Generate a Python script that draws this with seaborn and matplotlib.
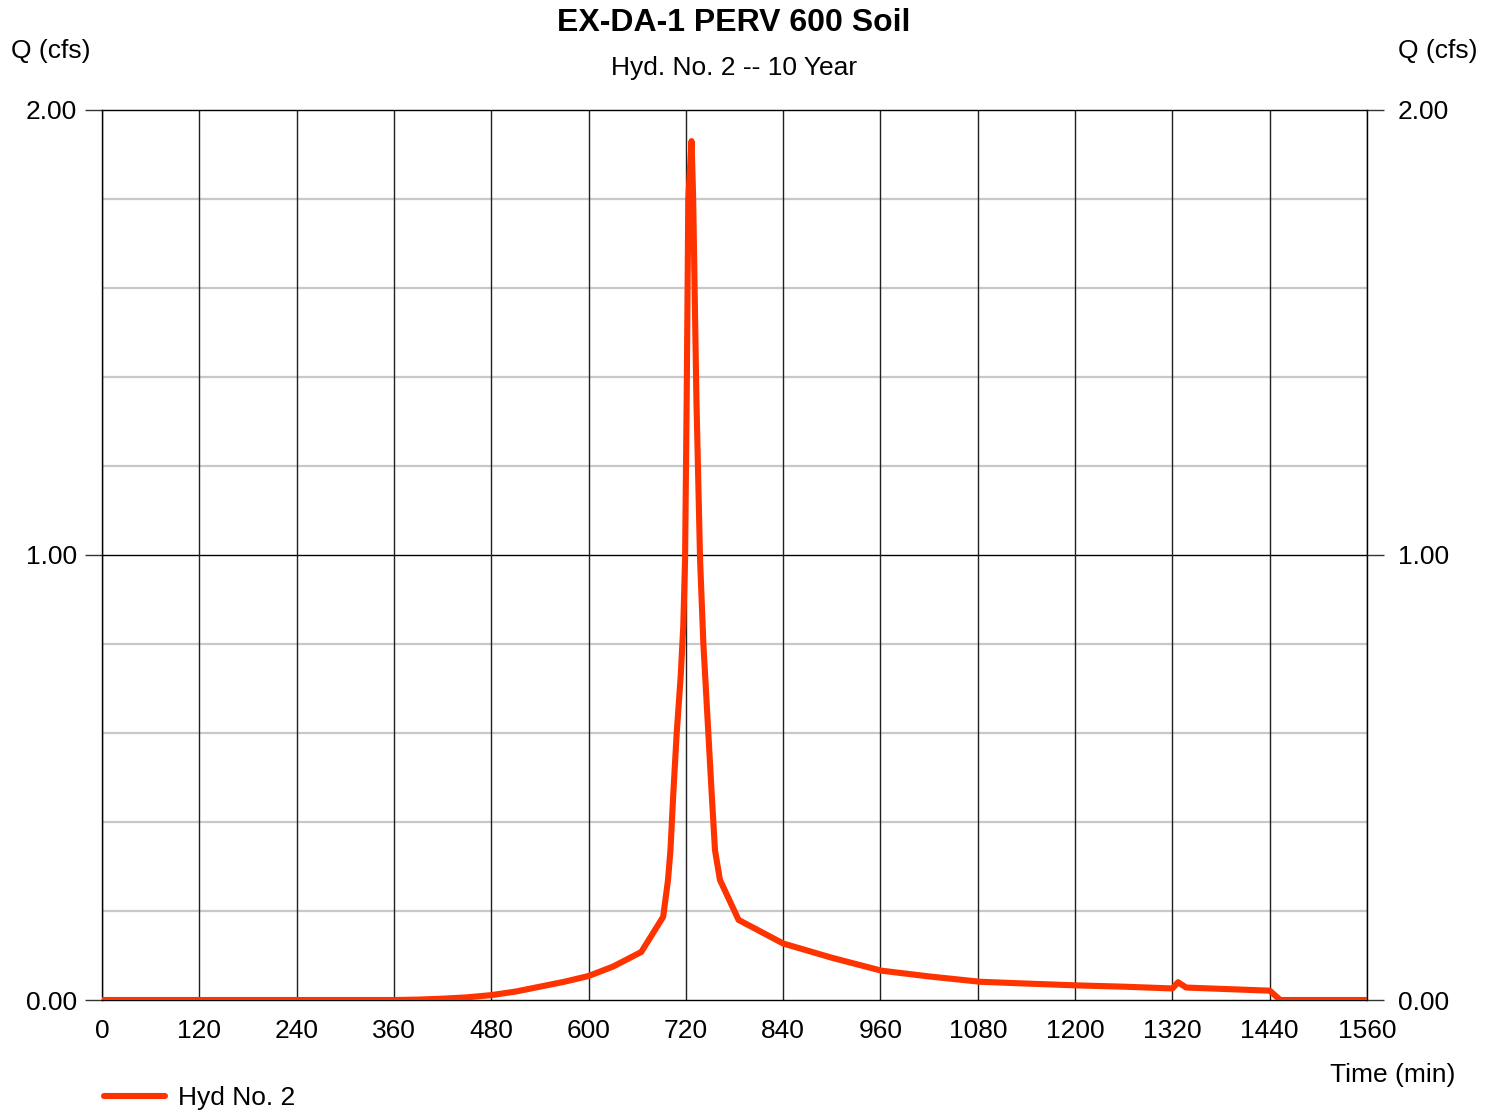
import matplotlib
matplotlib.use("Agg")
import matplotlib.pyplot as plt
import seaborn as sns
import pandas as pd

sns.set_style("white")
plt.rcParams["font.family"] = ["Liberation Sans", "DejaVu Sans"]
plt.rcParams["text.color"] = "black"
plt.rcParams["xtick.color"] = "black"
plt.rcParams["ytick.color"] = "black"

# Hydrograph ordinates: time (min) and discharge (cfs)
time_min = [0, 360, 390, 420, 450, 480, 510, 540, 570, 600, 630, 665, 692,
            698, 701, 704.5, 708.7, 713.6, 716.8, 719, 721, 723, 727, 729, 733,
            737.5, 741.6, 747.7, 751.8, 755.9, 762, 785, 840, 900, 961, 1020,
            1083, 1140, 1200, 1260, 1320, 1327, 1337, 1440, 1453, 1560]
flow_cfs = [0.0, 0.0, 0.001, 0.003, 0.006, 0.011, 0.019, 0.030, 0.041, 0.054,
            0.075, 0.108, 0.187, 0.27, 0.337, 0.464, 0.60, 0.727, 0.84, 0.99,
            1.35, 1.80, 1.93, 1.80, 1.35, 0.99, 0.80, 0.60, 0.465, 0.337, 0.27,
            0.18, 0.127, 0.095, 0.066, 0.053, 0.041, 0.037, 0.033, 0.030, 0.026,
            0.040, 0.028, 0.021, 0.0, 0.0]

x_ticks = list(range(0, 1561, 120))
y_major = [0.0, 1.0, 2.0]
y_minor = [0.2, 0.4, 0.6, 0.8, 1.2, 1.4, 1.6, 1.8]

df = pd.DataFrame({"Time (min)": time_min, "Q (cfs)": flow_cfs,
                   "series": "Hyd No. 2"})

fig = plt.figure(figsize=(14.94, 11.12), dpi=100)
ax = fig.add_axes([0.0683, 0.1007, 0.9150 - 0.0683, 0.9011 - 0.1007])

# grid
for yv in y_minor:
    ax.axhline(yv, color="#c8c8c8", lw=1.6, zorder=1)
ax.axhline(1.0, color="black", lw=1.0, zorder=1)
for xv in x_ticks:
    ax.axvline(xv, color="#202020", lw=1.0, zorder=1)

sns.lineplot(data=df, x="Time (min)", y="Q (cfs)", ax=ax, color="#ff3300",
             lw=4.4, zorder=3, legend=False, estimator=None, sort=False,
             solid_capstyle="round", solid_joinstyle="round")

ax.set_xlim(0, 1560)
ax.set_ylim(0, 2.0)
ax.set_xticks(x_ticks)
ax.set_xticklabels([str(v) for v in x_ticks], fontsize=19)
ax.set_yticks(y_major)
ax.set_yticklabels([f"{v:.2f}" for v in y_major], fontsize=19)
ax.tick_params(axis="x", length=0, pad=14)
ax.tick_params(axis="y", length=12, width=1.0, color="#333333", pad=6, direction="out")
ax.set_xlabel("")
ax.set_ylabel("")
for sp in ax.spines.values():
    sp.set_color("black")
    sp.set_linewidth(1.0)

ax2 = ax.twinx()
ax2.set_ylim(0, 2.0)
ax2.set_yticks(y_major)
ax2.set_yticklabels([f"{v:.2f}" for v in y_major], fontsize=19)
ax2.tick_params(axis="y", length=12, width=1.0, color="#333333", pad=10, direction="out")
for sp in ax2.spines.values():
    sp.set_visible(False)

fig.text(0.4913, 0.979, "EX-DA-1 PERV 600 Soil", ha="center", va="center",
         fontsize=23, fontweight="bold")
fig.text(0.4913, 0.939, "Hyd. No. 2 -- 10 Year", ha="center", va="center",
         fontsize=19)
fig.text(0.0342, 0.954, "Q (cfs)", ha="center", va="center", fontsize=19)
fig.text(0.9625, 0.954, "Q (cfs)", ha="center", va="center", fontsize=19)
fig.text(0.9320, 0.0335, "Time (min)", ha="center", va="center", fontsize=19)

# legend entry
fig.legend(handles=[plt.Line2D([], [], color="#ff3300", lw=4.4, solid_capstyle="round")],
           labels=["Hyd No. 2"], loc="center left", bbox_to_anchor=(0.054, 0.0125),
           frameon=False, fontsize=19, handlelength=2.3, handletextpad=0.5)

fig.savefig("out.png", dpi=100)
